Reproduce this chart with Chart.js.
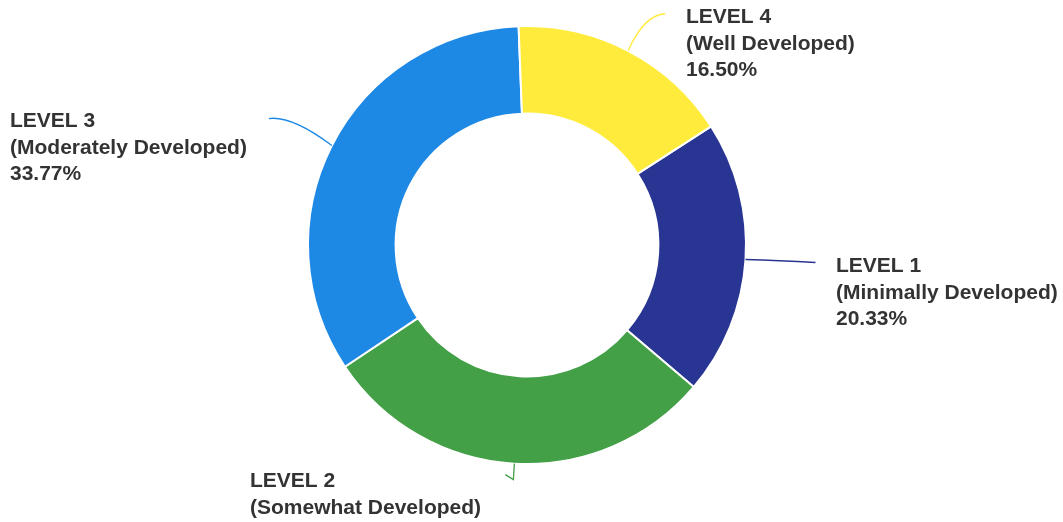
<!DOCTYPE html>
<html>
<head>
<meta charset="utf-8">
<script src="https://cdn.jsdelivr.net/npm/chart.js@4/dist/chart.umd.min.js"></script>
<style>
  html, body { margin: 0; padding: 0; background: #ffffff; }
  #wrap { width: 1063px; height: 522px; position: relative; }
</style>
</head>
<body>
<div id="wrap"><canvas id="chart" width="1063" height="522"></canvas></div>
<script>
// Development levels and their share of responses (percent)
const categories = ['LEVEL 1', 'LEVEL 2', 'LEVEL 3', 'LEVEL 4'];
const descriptors = ['(Minimally Developed)', '(Somewhat Developed)', '(Moderately Developed)', '(Well Developed)'];
const shares = [20.33, 29.40, 33.77, 16.50];
const colors = ['#283593', '#43A047', '#1E88E5', '#FFEB3B'];

// Callout placement for each slice: label block (left x, first baseline y)
// and the leader path as offsets from the slice's outer mid-point.
const callouts = [
  { x: 836, y: 272, path: [['q', 33, 1, 70, 3]] },
  { x: 250, y: 487, path: [['l', -1, 16], ['l', -8, -5]] },
  { x: 10,  y: 127, path: [['q', -40, -30, -63, -27]] },
  { x: 686, y: 23,  path: [['q', 16, -36, 37, -37]] }
];

const calloutPlugin = {
  id: 'callouts',
  afterDatasetsDraw(chart) {
    const ctx = chart.ctx;
    const meta = chart.getDatasetMeta(0);
    meta.data.forEach((arc, i) => {
      const p = arc.getProps(['x', 'y', 'startAngle', 'endAngle', 'outerRadius'], true);
      const mid = (p.startAngle + p.endAngle) / 2;
      const ax = p.x + Math.cos(mid) * p.outerRadius;
      const ay = p.y + Math.sin(mid) * p.outerRadius;
      const c = callouts[i];
      // leader line
      ctx.save();
      ctx.strokeStyle = colors[i];
      ctx.lineWidth = 1.3;
      ctx.beginPath();
      ctx.moveTo(ax, ay);
      let cx = ax, cy = ay;
      c.path.forEach(seg => {
        if (seg[0] === 'q') {
          ctx.quadraticCurveTo(ax + seg[1], ay + seg[2], ax + seg[3], ay + seg[4]);
          cx = ax + seg[3]; cy = ay + seg[4];
        } else {
          cx += seg[1]; cy += seg[2];
          ctx.lineTo(cx, cy);
        }
      });
      ctx.stroke();
      // label block
      ctx.fillStyle = '#333333';
      ctx.font = 'bold 21px "Liberation Sans", Arial, sans-serif';
      ctx.textAlign = 'left';
      ctx.textBaseline = 'alphabetic';
      const lines = [categories[i], descriptors[i], shares[i].toFixed(2) + '%'];
      lines.forEach((t, k) => ctx.fillText(t, c.x, c.y + k * 26.5));
      ctx.restore();
    });
  }
};

new Chart(document.getElementById('chart'), {
  type: 'doughnut',
  data: {
    labels: categories,
    datasets: [{
      data: shares,
      backgroundColor: colors,
      borderColor: '#ffffff',
      borderWidth: 2,
      hoverOffset: 0
    }]
  },
  options: {
    responsive: false,
    animation: false,
    rotation: 57.2,
    cutout: '60%',
    layout: { padding: { left: 307, right: 316, top: 25, bottom: 57 } },
    plugins: {
      legend: { display: false },
      tooltip: { enabled: false }
    }
  },
  plugins: [calloutPlugin]
});
</script>
</body>
</html>
